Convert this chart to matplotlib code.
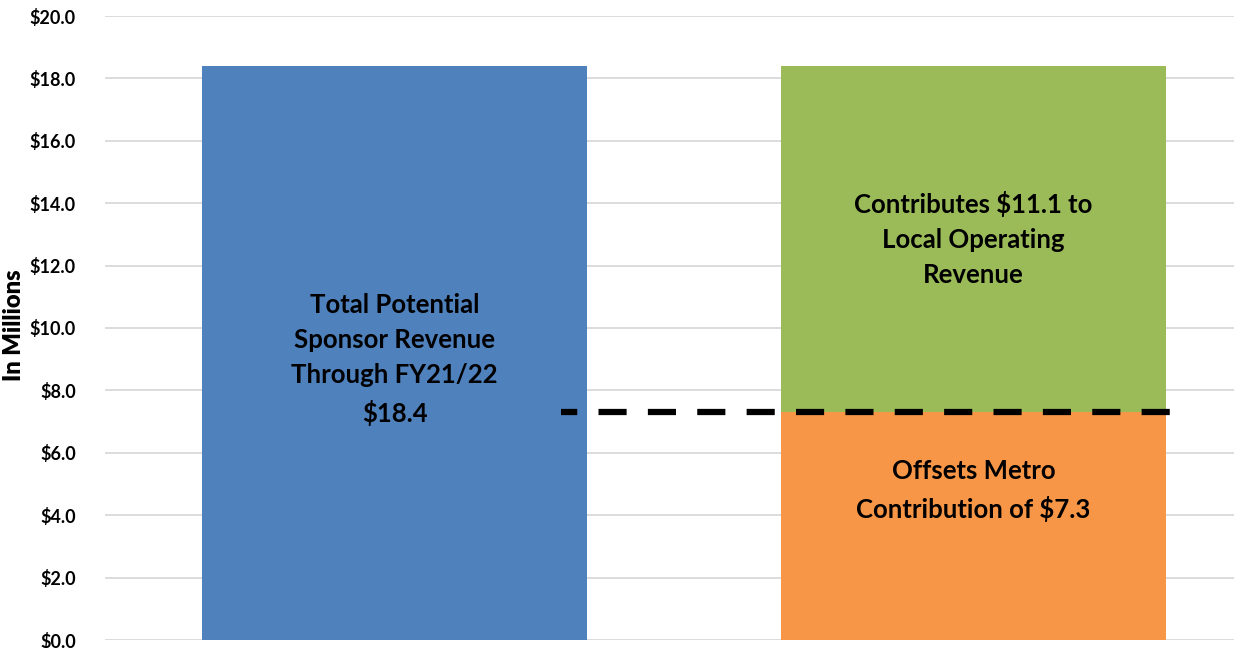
import matplotlib
matplotlib.use("Agg")
import matplotlib.pyplot as plt

categories = ["Total", "Split"]
total_value = [18.4]
metro_offset = [7.3]
local_revenue = [11.1]
yticks = [0, 2, 4, 6, 8, 10, 12, 14, 16, 18, 20]
ytick_labels = ["$0.0", "$2.0", "$4.0", "$6.0", "$8.0", "$10.0", "$12.0",
                "$14.0", "$16.0", "$18.0", "$20.0"]
label_total = "Total Potential\nSponsor Revenue\nThrough FY21/22\n$18.4"
label_local = "Contributes $11.1 to\nLocal Operating\nRevenue"
label_metro = "Offsets Metro\nContribution of $7.3"

plt.rcParams['font.family'] = ['Lato', 'DejaVu Sans']

fig = plt.figure(figsize=(12.34, 6.48), dpi=100)
ax = fig.add_axes([105/1234, 1-640/648, 1-105/1234, (640-16)/648])

w = 0.666
ax.bar(0, total_value[0], width=w, color="#4F81BD", zorder=2)
ax.bar(1, metro_offset[0], width=w, color="#F79646", zorder=2)
ax.bar(1, local_revenue[0], bottom=metro_offset[0], width=w, color="#9BBB59", zorder=2)

ax.plot([0.288, 1.34], [metro_offset[0], metro_offset[0]], color="black",
        lw=4.5, linestyle=(1.9, (4.5, 3.4)), solid_capstyle="butt",
        dash_capstyle="butt", zorder=3)

tkw = dict(ha="center", va="center", fontsize=18.5, fontweight="bold",
           color="black", linespacing=1.57, zorder=4)
ax.text(0, 9.0, label_total, **tkw)
ax.text(1, 12.85, label_local, **tkw)
ax.text(1, 4.8, label_metro, **tkw)

ax.set_xlim(-0.5, 1.45)
ax.set_ylim(0, 20)
ax.set_yticks(yticks)
ax.set_yticklabels(ytick_labels, fontsize=13, fontweight="bold")
ax.set_xticks([])
ax.tick_params(axis="y", length=0, pad=21)
ax.grid(axis="y", color="#D9D9D9", lw=1.3, zorder=0)
ax.set_axisbelow(True)
for s in ax.spines.values():
    s.set_visible(False)
ax.set_ylabel("In Millions", fontsize=17, fontweight="heavy")
ax.yaxis.set_label_coords(-80/1129, 0.505)

fig.savefig("out.png", dpi=100)
